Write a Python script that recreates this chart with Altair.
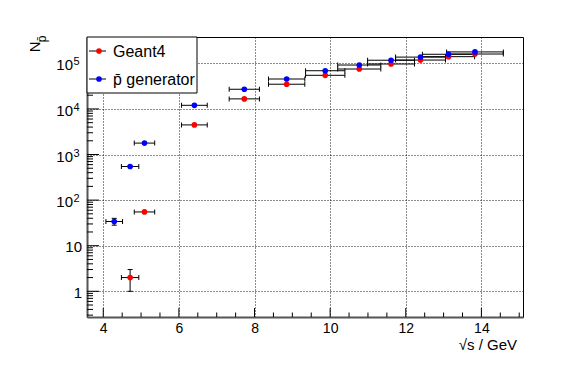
import math
import altair as alt
import pandas as pd

# ---------------- data ----------------
series_names = ["Geant4", "p\u0304 generator"]
series_colors = ["#ff0000", "#0000ff"]

g4_x = [4.71, 5.09, 6.41, 7.73, 8.85, 9.87, 10.77, 11.61, 12.39, 13.13, 13.83]
g4_xerr = [0.23, 0.27, 0.34, 0.40, 0.48, 0.52, 0.57, 0.62, 0.66, 0.69, 0.75]
g4_y = [2, 55, 4460, 16600, 34800, 54600, 75000, 96600, 118000, 140000, 160000]
g4_yerr = [1.0, 7.4, 67, 129, 187, 234, 274, 311, 344, 374, 400]

pb_x = [4.29, 4.71, 5.09, 6.41, 7.73, 8.85, 9.87, 10.77, 11.61, 12.39, 13.13, 13.83]
pb_xerr = [0.22, 0.23, 0.27, 0.34, 0.40, 0.48, 0.52, 0.57, 0.62, 0.66, 0.69, 0.75]
pb_y = [34, 546, 1780, 12000, 27000, 45300, 68800, 91800, 117000, 137000, 158000, 178000]
pb_yerr = [5.8, 23, 42, 110, 164, 213, 262, 303, 342, 370, 397, 422]

x_domain = [3.57, 15.1]
y_domain = [0.273, 3.78e5]
x_major = [4, 6, 8, 10, 12, 14]
x_minor = [4.5, 5, 5.5, 6.5, 7, 7.5, 8.5, 9, 9.5, 10.5, 11, 11.5, 12.5, 13, 13.5, 14.5, 15]
y_major = [1, 10, 100, 1000, 10000, 100000]
y_plain_vals = [1, 10]
y_plain_text = ["1", "10"]
y_pow_vals = [100, 1000, 10000, 100000]
y_pow_exp = ["2", "3", "4", "5"]
y_minor = [m * 10.0 ** k for k in range(-1, 6) for m in range(2, 10)
           if y_domain[0] <= m * 10.0 ** k <= y_domain[1]]

W, H = 436, 280
FONT = "Liberation Sans"
px_per_decade = H / (math.log10(y_domain[1]) - math.log10(y_domain[0]))

# ---------------- tables ----------------
rows = []
for name, xs_, xe, ys_, ye in [
    (series_names[0], g4_x, g4_xerr, g4_y, g4_yerr),
    (series_names[1], pb_x, pb_xerr, pb_y, pb_yerr),
]:
    for a, b, c, d in zip(xs_, xe, ys_, ye):
        # ROOT only draws the vertical bar where it sticks out of the marker
        vis = (math.log10(c + d) - math.log10(c)) * px_per_decade > 2.9
        rows.append(dict(series=name, x=a, xlo=a - b, xhi=a + b, y=c,
                         ylo=c - d, yhi=c + d, vis=vis))
df = pd.DataFrame(rows)
df_y = df[df["vis"]]

xs = alt.Scale(domain=x_domain, nice=False, zero=False)
ys = alt.Scale(type="log", domain=y_domain, nice=False)
cs = alt.Scale(domain=series_names, range=series_colors)

base = alt.Chart(df)
base_y = alt.Chart(df_y)

grid_kw = dict(gridColor="black", gridDash=[1, 2], gridWidth=1, gridOpacity=0.9,
               domainColor="#555", domainWidth=2, ticks=False)

axes_layer = base.mark_circle(opacity=0).encode(
    x=alt.X("x:Q", scale=xs, axis=alt.Axis(
        values=x_major, grid=True, format="d", title=None,
        labelFontSize=14, labelFont=FONT, labelColor="black", labelPadding=4, **grid_kw)),
    y=alt.Y("y:Q", scale=ys, axis=alt.Axis(
        values=y_major, grid=True, labels=False, title=None, **grid_kw)),
)

points = base.mark_circle(size=32, opacity=1).encode(
    x=alt.X("x:Q", scale=xs, axis=None),
    y=alt.Y("y:Q", scale=ys, axis=None),
    color=alt.Color("series:N", scale=cs, legend=None),
)

xbars = base.mark_rule(color="black", strokeWidth=1).encode(
    x=alt.X("xlo:Q", scale=xs, axis=None), x2="xhi:Q",
    y=alt.Y("y:Q", scale=ys, axis=None))
ybars = base_y.mark_rule(color="black", strokeWidth=1).encode(
    x=alt.X("x:Q", scale=xs, axis=None),
    y=alt.Y("ylo:Q", scale=ys, axis=None), y2="yhi:Q")
caps_xlo = base.mark_tick(orient="vertical", size=5, thickness=1, color="black", opacity=1).encode(
    x=alt.X("xlo:Q", scale=xs, axis=None), y=alt.Y("y:Q", scale=ys, axis=None))
caps_xhi = base.mark_tick(orient="vertical", size=5, thickness=1, color="black", opacity=1).encode(
    x=alt.X("xhi:Q", scale=xs, axis=None), y=alt.Y("y:Q", scale=ys, axis=None))
caps_ylo = base_y.mark_tick(orient="horizontal", size=5, thickness=1, color="black", opacity=1).encode(
    x=alt.X("x:Q", scale=xs, axis=None), y=alt.Y("ylo:Q", scale=ys, axis=None))
caps_yhi = base_y.mark_tick(orient="horizontal", size=5, thickness=1, color="black", opacity=1).encode(
    x=alt.X("x:Q", scale=xs, axis=None), y=alt.Y("yhi:Q", scale=ys, axis=None))

# axis ticks drawn inward
xmaj = alt.Chart(pd.DataFrame({"v": x_major})).mark_rule(color="black").encode(
    x=alt.X("v:Q", scale=xs, axis=None), y=alt.value(H), y2=alt.value(H - 9))
xmin = alt.Chart(pd.DataFrame({"v": x_minor})).mark_rule(color="black").encode(
    x=alt.X("v:Q", scale=xs, axis=None), y=alt.value(H), y2=alt.value(H - 4.5))
ymaj = alt.Chart(pd.DataFrame({"v": y_major})).mark_rule(color="black").encode(
    y=alt.Y("v:Q", scale=ys, axis=None), x=alt.value(0), x2=alt.value(12))
ymin = alt.Chart(pd.DataFrame({"v": y_minor})).mark_rule(color="black").encode(
    y=alt.Y("v:Q", scale=ys, axis=None), x=alt.value(0), x2=alt.value(6))

# y tick labels
ylab_plain = alt.Chart(pd.DataFrame({"v": y_plain_vals, "t": y_plain_text})).mark_text(
    align="right", baseline="middle", dy=1.5, fontSize=15, font=FONT, color="black").encode(
    y=alt.Y("v:Q", scale=ys, axis=None), x=alt.value(-5), text="t:N")
ylab_ten = alt.Chart(pd.DataFrame({"v": y_pow_vals})).mark_text(
    text="10", align="right", baseline="middle", dy=2, fontSize=15, font=FONT, color="black").encode(
    y=alt.Y("v:Q", scale=ys, axis=None), x=alt.value(-14))
ylab_exp = alt.Chart(pd.DataFrame({"v": y_pow_vals, "e": y_pow_exp})).mark_text(
    align="left", baseline="alphabetic", dy=2, fontSize=11, font=FONT, color="black").encode(
    y=alt.Y("v:Q", scale=ys, axis=None), x=alt.value(-13.5), text="e:N")

one = pd.DataFrame({"k": [0]})
ytitle_n = alt.Chart(one).mark_text(
    text="N", angle=270, align="left", baseline="alphabetic", fontSize=15, font=FONT, color="black"
).encode(x=alt.value(-47), y=alt.value(15.3))
ytitle_p = alt.Chart(one).mark_text(
    text="p\u0304", angle=270, align="left", baseline="alphabetic", fontSize=12, font=FONT, color="black"
).encode(x=alt.value(-41), y=alt.value(5.3))
xtitle = alt.Chart(one).mark_text(
    text="\u221as / GeV", align="right", baseline="alphabetic", fontSize=15, font=FONT, color="black"
).encode(x=alt.value(430), y=alt.value(H + 33))

# legend (box + one row per series)
leg_layers = [alt.Chart(one).mark_rect(fill="white", stroke="black", strokeWidth=1).encode(
    x=alt.value(0), x2=alt.value(110), y=alt.value(0), y2=alt.value(56))]
leg_df = pd.DataFrame({"series": series_names})
leg_rows_y = [14, 42]
for name, ry in zip(series_names, leg_rows_y):
    sel = alt.Chart(leg_df).transform_filter(alt.datum.series == name)
    leg_layers.append(sel.mark_rule(color="black", strokeWidth=1).encode(
        y=alt.value(ry), x=alt.value(2), x2=alt.value(19)))
    leg_layers.append(sel.mark_circle(size=32, opacity=1).encode(
        y=alt.value(ry), x=alt.value(12), color=alt.Color("series:N", scale=cs, legend=None)))
    leg_layers.append(sel.mark_text(
        align="left", baseline="middle", fontSize=16, font=FONT, color="black", dy=1).encode(
        y=alt.value(ry), x=alt.value(26), text="series:N"))

chart = alt.layer(
    axes_layer, xbars, ybars, caps_xlo, caps_xhi, caps_ylo, caps_yhi, points,
    xmaj, xmin, ymaj, ymin,
    ylab_plain, ylab_ten, ylab_exp, ytitle_n, ytitle_p, xtitle,
    *leg_layers,
).resolve_axis(x="independent", y="independent").properties(
    width=W, height=H,
    autosize=alt.AutoSizeParams(type="none"),
    padding={"left": 79, "top": 29, "right": 50, "bottom": 48},
).configure_view(stroke="black", strokeWidth=1)

chart.save("out.html", embed_options={"renderer": "svg", "actions": False})
